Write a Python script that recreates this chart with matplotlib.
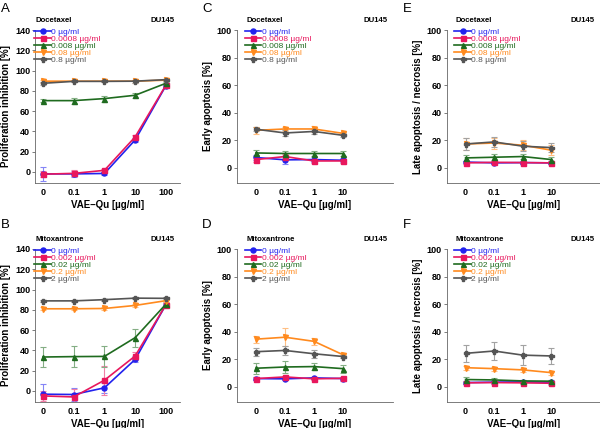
import matplotlib
matplotlib.use("Agg")
import matplotlib.pyplot as plt
from matplotlib.colors import to_rgb
import numpy as np

plt.rcParams['font.family'] = ['Liberation Sans', 'DejaVu Sans']

# ---------------- data ----------------
x_prolif = ["0", "0.1", "1", "10", "100"]
x_apop = ["0", "0.1", "1", "10"]

doc_labels = ["0 µg/ml", "0.0008 µg/ml", "0.008 µg/ml", "0.08 µg/ml", "0.8 µg/ml"]
mit_labels = ["0 µg/ml", "0.002 µg/ml", "0.02 µg/ml", "0.2 µg/ml", "2 µg/ml"]

# Panel A: Docetaxel, proliferation inhibition
A_vals = [
    [-2, -2, -1.6, 31.5, 85],
    [-2.3, -1.5, 1.5, 34.5, 85.5],
    [70.3, 70.3, 72.3, 75.6, 87.4],
    [89.5, 89.5, 89.5, 89.5, 90.5],
    [87.4, 89.3, 89.3, 89.5, 91],
]
A_err = [
    [7, 3, 1.5, 2, 1.5],
    [3, 3, 1.5, 2, 1.5],
    [1.5, 3, 3, 2.5, 1.5],
    [1.5, 1, 1, 1.5, 1],
    [1.5, 1, 1, 1.5, 1],
]
# Panel B: Mitoxantrone, proliferation inhibition
B_vals = [
    [-3.3, -3.6, 3, 31, 85],
    [-5, -6, 10.5, 34.4, 85],
    [33.4, 33.8, 34, 52.5, 85.5],
    [81, 81, 81.3, 84.3, 89],
    [88.8, 88.8, 90, 91.5, 91.3],
]
B_err = [
    [10, 6, 5, 3, 2],
    [5, 8, 14.5, 4, 2],
    [10, 10.5, 10.5, 9, 2],
    [1.5, 1.5, 1.5, 1.5, 1],
    [1, 1, 1, 1, 1],
]
# Panel C: Docetaxel, early apoptosis
C_vals = [
    [7.5, 5.8, 6, 5.5],
    [6, 8.2, 5, 5],
    [10.8, 10.4, 10.4, 10.4],
    [27.2, 28.2, 28.2, 25],
    [28, 25.3, 26.4, 23.6],
]
C_err = [
    [2, 3, 1.5, 1.5],
    [2, 1.5, 1.5, 1.5],
    [2, 1.5, 1.5, 1.5],
    [2.5, 1.5, 2.5, 1],
    [1.5, 2, 1.5, 1.5],
]
# Panel D: Mitoxantrone, early apoptosis
D_vals = [
    [6, 5.8, 6.5, 6],
    [6, 7.2, 5.8, 6.2],
    [13.5, 14.4, 14.7, 13.2],
    [34.6, 36, 33, 23.3],
    [25.5, 26.4, 24, 22],
]
D_err = [
    [1, 1, 1, 1.5],
    [1, 1, 1, 1],
    [4, 4, 2.5, 3],
    [2.5, 6.5, 2.5, 1],
    [3, 3, 3, 1],
]
# Panel E: Docetaxel, late apoptosis / necrosis
E_vals = [
    [4.2, 3.6, 3.8, 3.6],
    [3.6, 4, 3.8, 3.6],
    [7.2, 7.7, 8.2, 6],
    [17.3, 18, 16.4, 12.8],
    [17.3, 18.8, 15.7, 14.7],
]
E_err = [
    [1, 1, 1, 1],
    [1, 1, 1, 1],
    [2, 2, 2, 1.5],
    [4, 4, 3.5, 3.5],
    [4, 3.5, 3.5, 3],
]
# Panel F: Mitoxantrone, late apoptosis / necrosis
F_vals = [
    [3.1, 3.4, 3.6, 3.4],
    [2.9, 3.1, 2.9, 2.6],
    [5.3, 5, 4.3, 4.1],
    [13.9, 13.2, 12.3, 10.3],
    [24.3, 26, 23, 22.4],
]
F_err = [
    [1, 1, 1, 1],
    [1, 1, 1, 1],
    [1.5, 1.5, 1, 1],
    [1.5, 1.5, 1.5, 1.5],
    [6, 6.5, 7.5, 6],
]

colors = ["#2222ee", "#e8175d", "#1f6b1f", "#ff8a1e", "#555555"]
markers = ["o", "s", "^", "v", "P"]

# ---------------- figure ----------------
W, H = 600, 428
fig = plt.figure(figsize=(6.0, 4.28), dpi=100)

def px_axes(l, t, r, b):
    return fig.add_axes([l / W, 1 - b / H, (r - l) / W, (b - t) / H])

def lighten(c, f=0.45):
    r, g, b = to_rgb(c)
    return (r + (1 - r) * f, g + (1 - g) * f, b + (1 - b) * f)

def panel(ax, xlabels, vals, errs, labels, drug, ylabel, ylim, yticks, xlim, title_dx):
    xs = np.arange(len(xlabels))
    handles = []
    for v, e, c, m, lab in zip(vals, errs, colors, markers, labels):
        ax.errorbar(xs, v, yerr=e, fmt='none', ecolor=lighten(c), elinewidth=0.8,
                    capsize=2, capthick=0.8, zorder=2)
        h, = ax.plot(xs, v, color=c, marker=m, markersize=3.6, linewidth=1.2,
                     label=lab, zorder=3)
        handles.append(h)
    ax.set_xlim(*xlim)
    ax.set_ylim(*ylim)
    ax.set_yticks(yticks)
    ax.set_xticks(xs)
    ax.set_xticklabels(xlabels)
    for s in ["top", "right"]:
        ax.spines[s].set_visible(False)
    for s in ["left", "bottom"]:
        ax.spines[s].set_linewidth(0.6)
        ax.spines[s].set_color("#666666")
    ax.spines["left"].set_bounds(ylim[0], yticks[-1])
    ax.tick_params(axis='y', length=2, width=0.6, colors="#666666", labelcolor="black",
                   labelsize=6.5, pad=1.5)
    ax.tick_params(axis='x', length=0, labelsize=6.5, pad=3.5)
    for t in ax.get_xticklabels() + ax.get_yticklabels():
        t.set_fontweight("bold")
    ax.set_ylabel(ylabel, fontsize=7, fontweight="bold", labelpad=3)
    ax.set_xlabel("VAE–Qu [µg/ml]", fontsize=7, fontweight="bold", labelpad=2)
    ax.text(title_dx, 1.06, drug, transform=ax.transAxes, fontsize=5.6,
            fontweight="bold", ha="left", va="center")
    ax.text(0.965, 1.06, "DU145", transform=ax.transAxes, fontsize=5.6,
            fontweight="bold", ha="right", va="center")
    leg = ax.legend(handles=handles, loc="upper left", bbox_to_anchor=(title_dx - 0.01, 1.012),
                    frameon=False, fontsize=6, handlelength=2.0, handletextpad=0.05,
                    labelspacing=-0.1, borderaxespad=0, borderpad=0)
    for t, c in zip(leg.get_texts(), colors):
        t.set_color(c)

axA = px_axes(35, 30, 180, 183)
axC = px_axes(236.7, 30, 393, 183)
axE = px_axes(446.7, 30, 600, 183)
axB = px_axes(35, 249, 180, 402)
axD = px_axes(236.7, 249, 393, 402)
axF = px_axes(446.7, 249, 600, 402)

ticks140 = [0, 20, 40, 60, 80, 100, 120, 140]
ticks100 = [0, 20, 40, 60, 80, 100]

panel(axA, x_prolif, A_vals, A_err, doc_labels, "Docetaxel",
      "Proliferation inhibition [%]", (-11, 140), ticks140, (-0.26, 4.46), 0.005)
panel(axB, x_prolif, B_vals, B_err, mit_labels, "Mitoxantrone",
      "Proliferation inhibition [%]", (-11, 140), ticks140, (-0.26, 4.46), 0.005)
panel(axC, x_apop, C_vals, C_err, doc_labels, "Docetaxel",
      "Early apoptosis [%]", (-11, 100), ticks100, (-0.67, 4.73), 0.06)
panel(axD, x_apop, D_vals, D_err, mit_labels, "Mitoxantrone",
      "Early apoptosis [%]", (-11, 100), ticks100, (-0.67, 4.73), 0.06)
panel(axE, x_apop, E_vals, E_err, doc_labels, "Docetaxel",
      "Late apoptosis / necrosis [%]", (-11, 100), ticks100, (-0.66, 4.7), 0.06)
panel(axF, x_apop, F_vals, F_err, mit_labels, "Mitoxantrone",
      "Late apoptosis / necrosis [%]", (-11, 100), ticks100, (-0.66, 4.7), 0.06)

for lab, xp, yp in [("A", 1, 3), ("C", 202, 3), ("E", 403, 3),
                    ("B", 1, 219), ("D", 202, 219), ("F", 403, 219)]:
    fig.text(xp / W, 1 - yp / H, lab, fontsize=9.5, ha="left", va="top")

fig.savefig("out.png", dpi=100)
